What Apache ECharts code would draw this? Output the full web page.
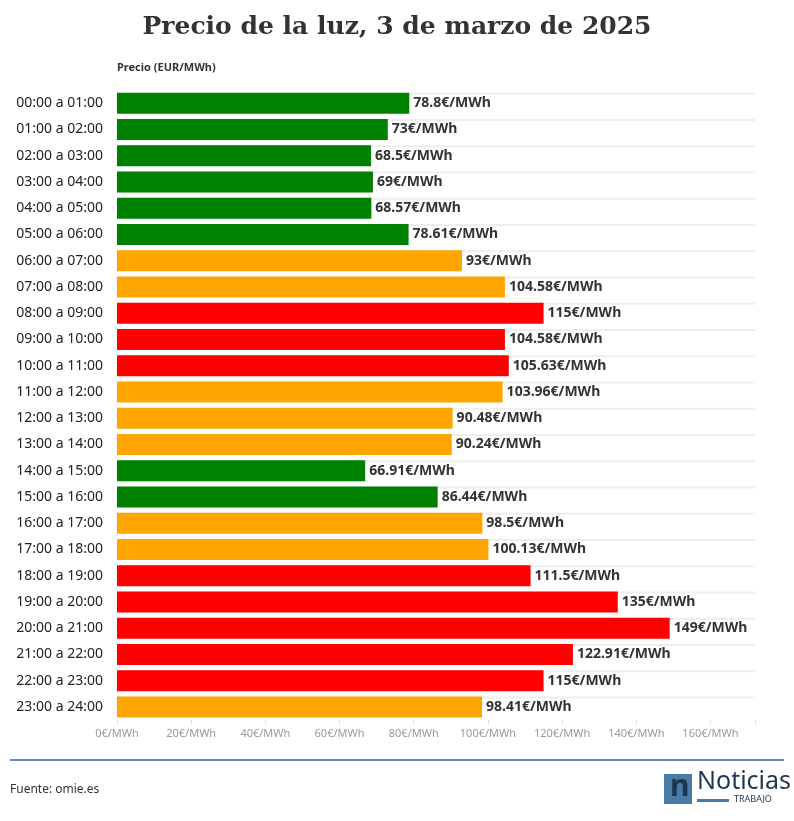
<!doctype html>
<html lang="es">
<head>
<meta charset="utf-8">
<title>Precio de la luz</title>
<script src="https://cdn.jsdelivr.net/npm/echarts@6/dist/echarts.min.js"></script>
<style>
  html, body { margin: 0; padding: 0; background: #fff; }
  #chart { width: 794px; height: 821px; }
</style>
</head>
<body>
<div id="chart"></div>
<script>
var hours = ['00:00 a 01:00','01:00 a 02:00','02:00 a 03:00','03:00 a 04:00','04:00 a 05:00','05:00 a 06:00',
  '06:00 a 07:00','07:00 a 08:00','08:00 a 09:00','09:00 a 10:00','10:00 a 11:00','11:00 a 12:00',
  '12:00 a 13:00','13:00 a 14:00','14:00 a 15:00','15:00 a 16:00','16:00 a 17:00','17:00 a 18:00',
  '18:00 a 19:00','19:00 a 20:00','20:00 a 21:00','21:00 a 22:00','22:00 a 23:00','23:00 a 24:00'];
var prices = [78.8, 73, 68.5, 69, 68.57, 78.61, 93, 104.58, 115, 104.58, 105.63, 103.96,
  90.48, 90.24, 66.91, 86.44, 98.5, 100.13, 111.5, 135, 149, 122.91, 115, 98.41];
var levels = ['low','low','low','low','low','low','mid','mid','high','high','high','mid',
  'mid','mid','low','low','mid','mid','high','high','high','high','high','mid'];
var levelColors = { low: '#008000', mid: '#FFA500', high: '#FF0000' };
var axisMax = 172;

var chart = echarts.init(document.getElementById('chart'));
chart.setOption({
  animation: false,
  title: {
    text: 'Precio de la luz, 3 de marzo de 2025',
    left: 'center', top: 10,
    textStyle: { fontFamily: 'DejaVu Serif', fontSize: 25, fontWeight: 'bold', color: '#333' }
  },
  grid: { left: 117, right: 39, top: 90, bottom: 101 },
  xAxis: {
    type: 'value', min: 0, max: axisMax, interval: 20,
    axisLine: { show: false },
    axisTick: { show: true, length: 4, lineStyle: { color: '#ddd' } },
    splitLine: { show: false },
    axisLabel: {
      color: '#999', fontSize: 11, fontFamily: 'Noto Sans',
      formatter: function (v) { return v > 160 ? '' : v + '€/MWh'; }
    }
  },
  yAxis: {
    type: 'category', data: hours, inverse: true,
    axisLine: { show: false }, axisTick: { show: false },
    splitLine: { show: false },
    axisLabel: { color: '#222', fontSize: 14, fontFamily: 'Noto Sans', margin: 14 }
  },
  series: [{
    type: 'bar', barWidth: 2, silent: true, z: 1,
    itemStyle: { color: '#eeeeee' },
    data: hours.map(function () { return axisMax; })
  }, {
    type: 'bar', barWidth: 21, barGap: '-100%', z: 2,
    data: prices.map(function (p, i) {
      return { value: p, itemStyle: { color: levelColors[levels[i]] } };
    }),
    label: {
      show: true, position: 'right', distance: 4,
      color: '#333', fontSize: 14, fontWeight: 'bold', fontFamily: 'Noto Sans',
      formatter: function (p) { return p.value + '€/MWh'; }
    }
  }],
  graphic: [
    { type: 'text', left: 117, top: 62, style: { text: 'Precio (EUR/MWh)', fill: '#333', font: 'bold 11px "Noto Sans"' } },
    { type: 'rect', shape: { x: 10, y: 759, width: 774, height: 2 }, style: { fill: '#5b8db8' } },
    { type: 'text', left: 10, top: 784, style: { text: 'Fuente: omie.es', fill: '#333', font: '12px "Noto Sans"' } },
    { type: 'rect', shape: { x: 664, y: 774, width: 28, height: 30 }, style: { fill: '#4a7aa6' } },
    { type: 'text', left: 670, top: 772, style: { text: 'n', fill: '#1f3550', font: 'bold 30px "Noto Sans"' } },
    { type: 'text', left: 697, top: 769, style: { text: 'Noticias', fill: '#1f3550', font: '25px "Noto Sans"' } },
    { type: 'rect', shape: { x: 697, y: 799, width: 32, height: 3 }, style: { fill: '#4a7aa6' } },
    { type: 'text', left: 734, top: 795, style: { text: 'TRABAJO', fill: '#1f3550', font: '9px "Noto Sans"' } }
  ]
});
</script>
</body>
</html>
